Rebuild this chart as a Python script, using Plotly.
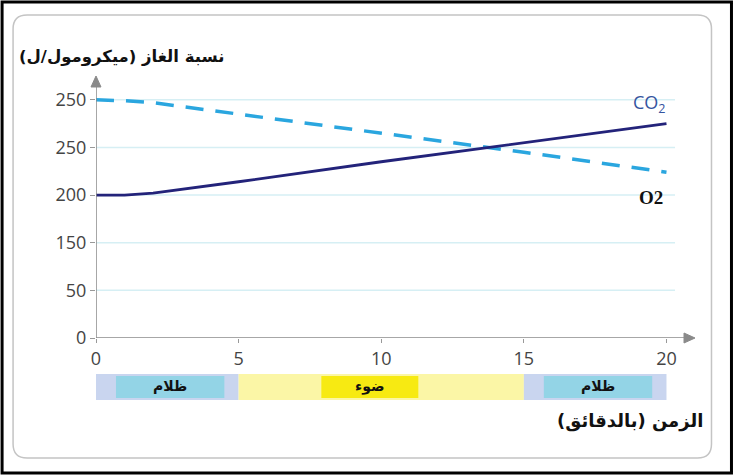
import plotly.graph_objects as go
import re

# ---- data ----
time_min = [0, 1, 2, 5, 10, 15, 20]
co2 = [250, 249, 247, 235, 215, 195, 174]
o2 = [150, 150, 152, 164, 185, 205, 225]

y_tickvals = [0, 50, 100, 150, 200, 250]
y_ticktext = ["0", "50", "150", "200", "250", "250"]
x_tickvals = [0, 5, 10, 15, 20]

period_start = [0, 5, 15]
period_end = [5, 15, 20]
period_label = ["ظلام", "ضوء", "ظلام"]
label_box_start = [0.7, 7.9, 15.7]
label_box_end = [4.5, 11.3, 19.5]
period_bg = ["#c9d5ef", "#fbf6a6", "#c9d5ef"]
period_box = ["#93d4e6", "#f7ea12", "#93d4e6"]

W, H = 734, 475
L, T = 96, 76
XR = [0, 21]
YR = [0, 275]
PW = 599.5
PH = 262
B = H - T - PH
R = W - L - PW


def px(xp):
    return (xp - L) / PW


def py(yp):
    return (H - B - yp) / PH


def to_paper_path(path):
    def conv(m):
        a, b = float(m.group(1)), float(m.group(2))
        return f"{px(a):.5f},{py(b):.5f}"
    return re.sub(r"(-?\d+\.?\d*),(-?\d+\.?\d*)", conv, path)


fig = go.Figure()

fig.add_trace(go.Scatter(x=time_min, y=co2, mode="lines",
                         line=dict(color="#2aa6df", width=3.5, dash="18px,12px"),
                         showlegend=False, hoverinfo="skip"))
fig.add_trace(go.Scatter(x=time_min, y=o2, mode="lines",
                         line=dict(color="#23237a", width=2.8),
                         showlegend=False, hoverinfo="skip"))

shapes = []
# grid lines
for v in y_tickvals[1:]:
    shapes.append(dict(type="line", xref="x", yref="y", x0=0, x1=20.3, y0=v, y1=v,
                       line=dict(color="#d6eff4", width=1.5), layer="below"))
# axis lines
axis_col = "#8a8a8a"
shapes.append(dict(type="line", xref="x", yref="y", x0=0, x1=XR[1] - 0.25, y0=0, y1=0,
                   line=dict(color=axis_col, width=1.5)))
shapes.append(dict(type="line", xref="x", yref="y", x0=0, x1=0, y0=0, y1=YR[1] - 6,
                   line=dict(color=axis_col, width=1.5)))
# arrowheads (pixel geometry)
xa, ya = L + PW, H - B
shapes.append(dict(type="path", xref="paper", yref="paper", fillcolor=axis_col,
                   line=dict(color=axis_col, width=1),
                   path=to_paper_path(f"M {xa},{ya} L {xa-11},{ya-5} L {xa-11},{ya+5} Z")))
xb, yb = L, T
shapes.append(dict(type="path", xref="paper", yref="paper", fillcolor=axis_col,
                   line=dict(color=axis_col, width=1),
                   path=to_paper_path(f"M {xb},{yb} L {xb-5},{yb+11} L {xb+5},{yb+11} Z")))
# outer black frame
shapes.append(dict(type="rect", xref="paper", yref="paper",
                   x0=px(2), x1=px(732), y0=py(473), y1=py(2),
                   line=dict(color="black", width=3)))
# inner rounded panel
x0, x1, y0, y1, r = 13, 712, 15, 458, 14
path = (f"M {x0+r},{y0} L {x1-r},{y0} Q {x1},{y0} {x1},{y0+r} L {x1},{y1-r} "
        f"Q {x1},{y1} {x1-r},{y1} L {x0+r},{y1} Q {x0},{y1} {x0},{y1-r} L {x0},{y0+r} "
        f"Q {x0},{y0} {x0+r},{y0} Z")
shapes.append(dict(type="path", xref="paper", yref="paper", path=to_paper_path(path),
                   line=dict(color="#c4c4c4", width=1.5), layer="below"))

annotations = []
# period band
for s, e, lab, bg, bx, bs, be in zip(period_start, period_end, period_label, period_bg,
                                     period_box, label_box_start, label_box_end):
    shapes.append(dict(type="rect", xref="x", yref="paper", x0=s, x1=e,
                       y0=py(400), y1=py(374), fillcolor=bg, line=dict(width=0)))
    shapes.append(dict(type="rect", xref="x", yref="paper", x0=bs, x1=be,
                       y0=py(398), y1=py(376), fillcolor=bx, line=dict(width=0)))
    annotations.append(dict(x=(bs + be) / 2, y=py(386), xref="x", yref="paper",
                            xanchor="center", yanchor="middle",
                            text=f"<b>{lab}</b>", showarrow=False,
                            font=dict(family="DejaVu Sans", size=14, color="#111")))

# titles
annotations.append(dict(x=px(226), y=py(57), xref="paper", yref="paper",
                        xanchor="right", yanchor="middle",
                        text="<b>نسبة الغاز (ميكرومول/ل)</b>", showarrow=False,
                        font=dict(family="DejaVu Sans", size=16.5, color="#111")))
annotations.append(dict(x=px(706), y=py(421), xref="paper", yref="paper",
                        xanchor="right", yanchor="middle",
                        text="<b>الزمن (بالدقائق)</b>", showarrow=False,
                        font=dict(family="DejaVu Sans", size=18, color="#111")))
# series labels
annotations.append(dict(x=px(668), y=py(104), xref="paper", yref="paper",
                        xanchor="right", yanchor="middle",
                        text="CO<sub>2</sub>", showarrow=False,
                        font=dict(family="Open Sans", size=18, color="#34549f")))
annotations.append(dict(x=px(665), y=py(197), xref="paper", yref="paper",
                        xanchor="right", yanchor="middle",
                        text="<b>O2</b>", showarrow=False,
                        font=dict(family="Liberation Serif", size=19, color="#111")))

fig.update_layout(
    width=W, height=H,
    margin=dict(l=L, r=R, t=T, b=B),
    paper_bgcolor="white", plot_bgcolor="white",
    shapes=shapes, annotations=annotations,
    xaxis=dict(range=XR, tickvals=x_tickvals, showgrid=False, zeroline=False,
               showline=False, ticks="outside", ticklen=4, tickcolor="#999",
               tickfont=dict(family="Open Sans", size=18, color="#444"), fixedrange=True),
    yaxis=dict(range=YR, tickvals=y_tickvals, ticktext=y_ticktext, showgrid=False,
               zeroline=False, showline=False, ticks="outside", ticklen=5, tickcolor="#999",
               tickfont=dict(family="Open Sans", size=18, color="#444"), fixedrange=True),
)

fig.write_html("out.html", config={"displayModeBar": False},
               post_script="document.body.style.margin='0';document.body.style.overflow='hidden';")
